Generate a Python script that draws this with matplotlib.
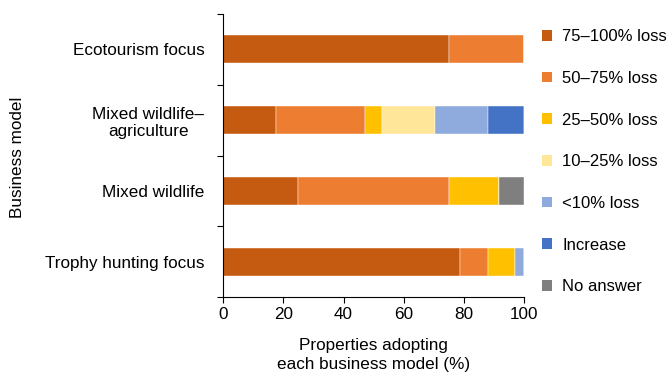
import matplotlib.pyplot as plt
from matplotlib.patches import Patch

plt.rcParams['font.family'] = ['Liberation Sans', 'DejaVu Sans']

# business models, top to bottom
models = ['Ecotourism focus', 'Mixed wildlife\u2013\nagriculture', 'Mixed wildlife', 'Trophy hunting focus']
categories = ['75\u2013100% loss', '50\u201375% loss', '25\u201350% loss', '10\u201325% loss',
              '<10% loss', 'Increase', 'No answer']
colors = ['#C55A11', '#ED7D31', '#FFC000', '#FFE699', '#8FAADC', '#4472C4', '#7F7F7F']

# percent of properties per model, one list per response category
loss_75_100 = [75.0, 17.6, 25.0, 78.8]
loss_50_75 = [25.0, 29.4, 50.0, 9.1]
loss_25_50 = [0.0, 5.9, 16.7, 9.1]
loss_10_25 = [0.0, 17.6, 0.0, 0.0]
loss_lt10 = [0.0, 17.6, 0.0, 3.0]
increase = [0.0, 11.8, 0.0, 0.0]
no_answer = [0.0, 0.0, 8.3, 0.0]
series = [loss_75_100, loss_50_75, loss_25_50, loss_10_25, loss_lt10, increase, no_answer]

fs = 12.3
fig = plt.figure(figsize=(6.72, 3.77), dpi=100)
ax = fig.add_axes([0.332, 0.212, 0.448, 0.751])

ypos = list(range(len(models)))
left = [0.0] * len(models)
for vals, col in zip(series, colors):
    ax.barh(ypos, vals, left=left, height=0.4, color=col, edgecolor='white', linewidth=0.3)
    left = [a + b for a, b in zip(left, vals)]

ax.set_xlim(0, 100)
ax.set_ylim(3.5, -0.5)
ax.set_xticks([0, 20, 40, 60, 80, 100])
ax.set_yticks(ypos)
ax.set_yticklabels(models, fontsize=fs, ha='right', multialignment='center')
ax.set_yticks([-0.5, 0.5, 1.5, 2.5, 3.5], minor=True)
ax.tick_params(axis='y', which='major', length=0, pad=13.5)
ax.tick_params(axis='y', which='minor', length=4, width=0.8)
ax.tick_params(axis='x', length=4, width=0.8, labelsize=fs)
for s in ['top', 'right']:
    ax.spines[s].set_visible(False)
for s in ['left', 'bottom']:
    ax.spines[s].set_linewidth(0.8)

ax.set_xlabel('Properties adopting\neach business model (%)', fontsize=fs, labelpad=11,
              linespacing=1.35)
fig.text(18 / 672, 1 - 157 / 377, 'Business model', rotation=90, fontsize=fs,
         ha='center', va='center')

handles = [Patch(facecolor=c) for c in colors]
fig.legend(handles, categories, loc='upper left', bbox_to_anchor=(0.797, 0.94),
           frameon=False, fontsize=12, handlelength=0.6, handleheight=0.6,
           handletextpad=0.6, labelspacing=1.6, borderaxespad=0)

fig.savefig('out.png', dpi=100)
